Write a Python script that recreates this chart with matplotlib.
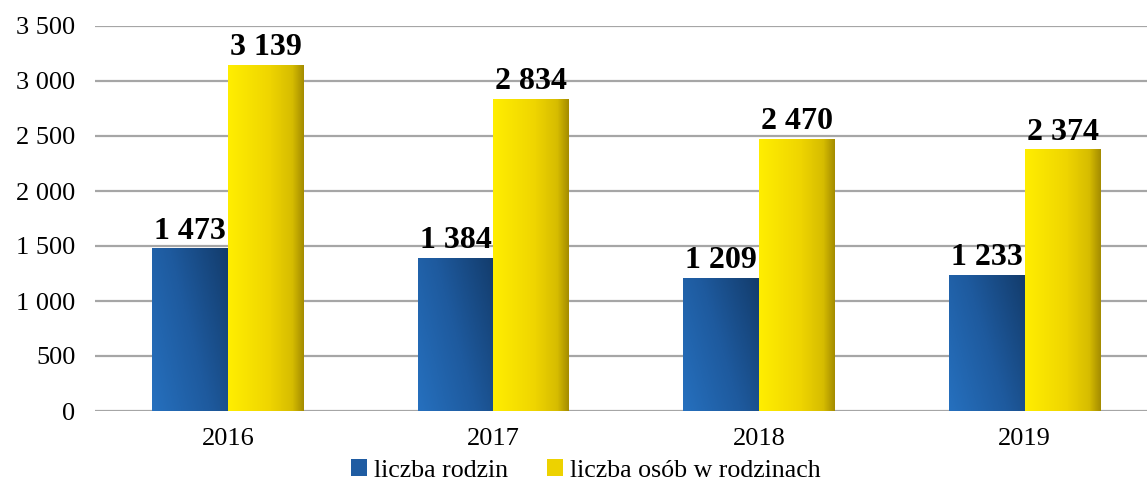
import matplotlib
matplotlib.use("Agg")
import matplotlib.pyplot as plt
import numpy as np
from matplotlib.patches import Patch
from matplotlib.colors import LinearSegmentedColormap

plt.rcParams['font.family'] = ['Liberation Serif', 'DejaVu Serif']

years = ["2016", "2017", "2018", "2019"]
rodziny = [1473, 1384, 1209, 1233]
osoby = [3139, 2834, 2470, 2374]
series_names = ["liczba rodzin", "liczba osób w rodzinach"]
yticks = [0, 500, 1000, 1500, 2000, 2500, 3000, 3500]

def fmt(v):
    return f"{v:,}".replace(",", " ")

fig = plt.figure(figsize=(11.47, 4.84), dpi=100)
ax = fig.add_axes([95/1147, 1-411/484, 1-95/1147, (411-26)/484])

blue_cmap = LinearSegmentedColormap.from_list("b", ["#2670BE", "#1E5A9E", "#133C6C"])
yel_cmap = LinearSegmentedColormap.from_list("y", [(0, "#FFEE00"), (0.55, "#EFD500"), (0.85, "#D6BC00"), (1, "#A48C00")])

w = 0.286
x = np.arange(len(years))

gx, gy = np.meshgrid(np.linspace(0, 1, 64), np.linspace(0, 1, 64))
blue_grad = (gx * 0.65 + gy * 0.35)
yel_grad = np.tile(np.linspace(0, 1, 128), (2, 1))

for i in range(len(years)):
    x0 = x[i] - w
    ax.imshow(blue_grad, extent=(x0, x0 + w, 0, rodziny[i]), origin='lower',
              cmap=blue_cmap, aspect='auto', zorder=3)
    ax.imshow(yel_grad, extent=(x[i], x[i] + w, 0, osoby[i]), origin='lower',
              cmap=yel_cmap, aspect='auto', zorder=3)
    ax.text(x[i] - w/2, rodziny[i] + 30, fmt(rodziny[i]), ha='center', va='bottom',
            fontsize=23, fontweight='bold', zorder=4)
    ax.text(x[i] + w/2, osoby[i] + 30, fmt(osoby[i]), ha='center', va='bottom',
            fontsize=23, fontweight='bold', zorder=4)

ax.set_xlim(-0.5, 3.46)
ax.set_ylim(0, 3500)
ax.set_yticks(yticks)
ax.set_yticklabels([fmt(v) for v in yticks], fontsize=19)
ax.set_xticks(x)
ax.set_xticklabels(years, fontsize=19)
ax.tick_params(axis='both', length=0)
ax.tick_params(axis='y', pad=14)
ax.tick_params(axis='x', pad=12)
ax.yaxis.grid(True, color='#A6A6A6', linewidth=1.6, zorder=0)
ax.set_axisbelow(True)
for s in ax.spines.values():
    s.set_visible(False)

handles = [Patch(facecolor='#1F5CA2', edgecolor='none'), Patch(facecolor='#EDD200', edgecolor='none')]
fig.legend(handles, series_names, loc='center', bbox_to_anchor=(0.511, 0.028), ncol=2,
           frameon=False, fontsize=18.6, handlelength=0.6, handleheight=0.6,
           handletextpad=0.3, columnspacing=1.5)

fig.savefig("out.png", dpi=100)
